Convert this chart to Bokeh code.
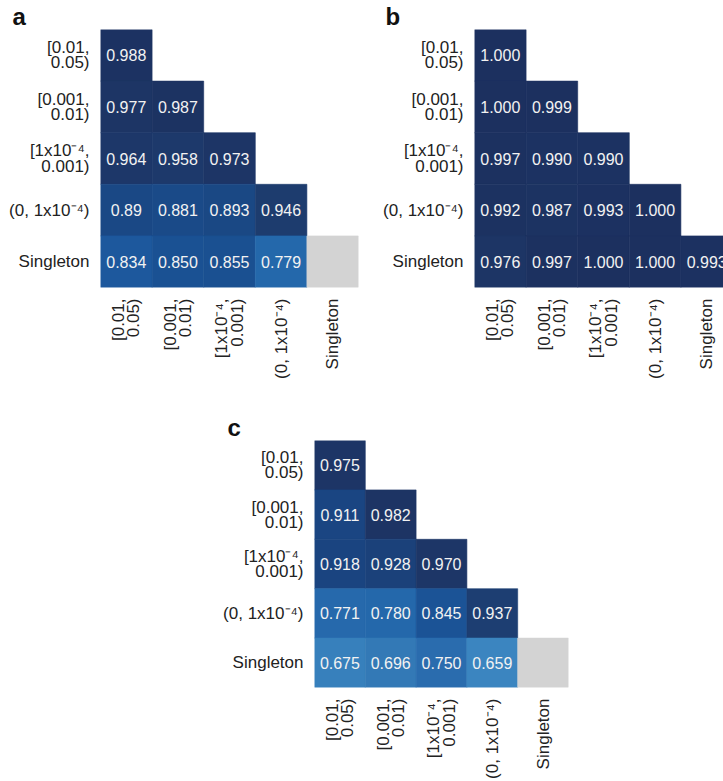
import math
import numpy as np
from bokeh.plotting import figure
from bokeh.models import ColumnDataSource, LinearColorMapper, Range1d, FixedTicker, Spacer
from bokeh.layouts import column, row
from bokeh.transform import transform
from bokeh.core.properties import value
from bokeh.embed import file_html
from bokeh.resources import INLINE

FONT = "Liberation Sans"

# ---- data ----
categories = [
    "[0.01,\n0.05)",
    "[0.001,\n0.01)",
    "[1x10\u207b\u2074,\n0.001)",
    "(0, 1x10\u207b\u2074)",
    "Singleton",
]

panel_a = [
    ["0.988"],
    ["0.977", "0.987"],
    ["0.964", "0.958", "0.973"],
    ["0.89", "0.881", "0.893", "0.946"],
    ["0.834", "0.850", "0.855", "0.779", ""],
]

panel_b = [
    ["1.000"],
    ["1.000", "0.999"],
    ["0.997", "0.990", "0.990"],
    ["0.992", "0.987", "0.993", "1.000"],
    ["0.976", "0.997", "1.000", "1.000", "0.993"],
]

panel_c = [
    ["0.975"],
    ["0.911", "0.982"],
    ["0.918", "0.928", "0.970"],
    ["0.771", "0.780", "0.845", "0.937"],
    ["0.675", "0.696", "0.750", "0.659", ""],
]

# ---- colour scale (style) ----
stop_vals = [0.65, 0.70, 0.75, 0.78, 0.83, 0.85, 0.89, 0.92, 0.94, 0.97, 1.00]
stop_cols = ["#3d88c2", "#3278b5", "#2a6cae", "#2468ab", "#1e5aa0", "#1a5193",
             "#1a4885", "#1a4480", "#1d3d70", "#1d3667", "#1c305f"]


def hex2rgb(h):
    return [int(h[i:i + 2], 16) for i in (1, 3, 5)]


grid_v = np.linspace(0.65, 1.0, 351)
rgb = np.array([hex2rgb(c) for c in stop_cols], dtype=float)
chan = [np.interp(grid_v, stop_vals, rgb[:, k]) for k in range(3)]
palette = ["#%02x%02x%02x" % (int(round(r)), int(round(g)), int(round(b)))
           for r, g, b in zip(*chan)]
mapper = LinearColorMapper(palette=palette, low=0.65, high=1.0, nan_color="#d3d3d3")

CELL = 51.6  # pixels per cell


def make_panel(letter, cells, width, height, left, right, top, bottom, x_end, title_offset):
    xs, ys, vals, texts = [], [], [], []
    for i, r in enumerate(cells):
        for j, t in enumerate(r):
            xs.append(j + 0.5)
            ys.append(i + 0.5)
            vals.append(float(t) if t else float("nan"))
            texts.append(t)
    src = ColumnDataSource(dict(x=xs, y=ys, v=np.array(vals), t=texts))
    p = figure(width=width, height=height,
               x_range=Range1d(0, x_end), y_range=Range1d(len(categories), 0),
               output_backend="svg", toolbar_location=None,
               min_border_left=left, min_border_right=right,
               min_border_top=top, min_border_bottom=bottom,
               title=letter)
    p.title.align = "left"
    p.title.offset = title_offset
    p.title.standoff = 0
    p.title.text_font = FONT
    p.title.text_font_style = "bold"
    p.title.text_font_size = "24px"
    p.title.text_color = "#111111"

    p.rect("x", "y", 1, 1, source=src,
           fill_color=transform("v", mapper), line_color=transform("v", mapper),
           line_width=0.6)
    p.text("x", "y", text="t", source=src, text_align="center", text_baseline="middle",
           text_font=value(FONT), text_font_size="16px", text_color="#f2f2f2")

    ticks = [k + 0.5 for k in range(len(categories))]
    overrides = {k + 0.5: c for k, c in enumerate(categories)}
    for ax in (p.xaxis[0], p.yaxis[0]):
        ax.ticker = FixedTicker(ticks=ticks)
        ax.major_label_overrides = overrides
        ax.axis_line_color = None
        ax.major_tick_line_color = None
        ax.minor_tick_line_color = None
        ax.major_label_text_font = FONT
        ax.major_label_text_font_size = "17px"
        ax.major_label_text_color = "#222222"
        ax.major_label_text_line_height = 0.8
        ax.major_label_standoff = 5
    p.xaxis.major_label_orientation = math.pi / 2
    p.grid.grid_line_color = None
    p.outline_line_color = None
    return p


pa = make_panel("a", panel_a, 380, 390, 100, 22, 29, 103, 5.0, -88)
pb = make_panel("b", panel_b, 343, 390, 94, 0, 29, 103, 249 / CELL, -89)
pc = make_panel("c", panel_c, 380, 391, 90, 32, 50, 83, 5.0, -87)

layout = column(row(pa, pb), row(Spacer(width=220, height=391), pc))

open("out.html", "w").write(file_html(layout, INLINE))
